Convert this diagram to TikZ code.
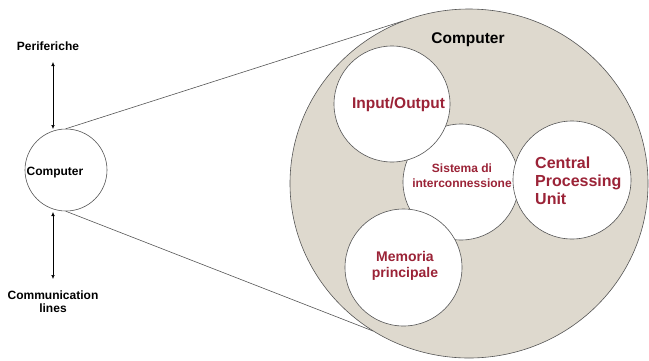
\documentclass[tikz,border=0pt]{standalone}
\usepackage{fontspec}
\setmainfont{Liberation Sans}
\usetikzlibrary{arrows.meta,shapes.geometric}
\definecolor{sand}{RGB}{222,217,206}
\definecolor{wine}{RGB}{155,35,55}
\definecolor{rim}{RGB}{85,85,85}
\tikzset{
  rimline/.style={draw=rim, line width=0.6pt},
  unit/.style={circle, rimline, fill=white, inner sep=0pt, minimum size=#1},
  blk/.style={inner sep=0pt, align=center, font=\bfseries\fontsize{12}{13.5}\selectfont},
  redtxt/.style={inner sep=0pt, text=wine},
  dblarrow/.style={draw=black, line width=0.5pt, {Latex[length=4pt,width=3.5pt]}-{Latex[length=4pt,width=3.5pt]}},
}
\begin{document}
\begin{tikzpicture}[x=1pt, y=-1pt]
  \useasboundingbox (0,0) rectangle (649,360);

  % enlarged view of the computer
  \node[ellipse, rimline, fill=sand, minimum width=358, minimum height=349, inner sep=0pt]
    (big) at (469,183.5) {};
  \node[inner sep=0pt, font=\bfseries\fontsize{15.5}{17}\selectfont] (bigtitle) at (468,40) {Computer};

  % internal units (interconnection first, the others overlap it)
  \node[unit=116] (bus) at (461,182) {};
  \node[unit=116] (io)  at (392,104) {};
  \node[unit=118] (cpu) at (572,180) {};
  \node[unit=117] (mem) at (403.5,267.5) {};

  \node[redtxt, font=\bfseries\fontsize{15.5}{17}\selectfont] (iotxt) at (398.5,104) {Input/Output};
  \node[redtxt, align=center, font=\bfseries\fontsize{12}{15}\selectfont] (bustxt) at (462,176) {Sistema di\\interconnessione};
  \node[redtxt, align=left, anchor=west, font=\bfseries\fontsize{16}{18}\selectfont] (cputxt) at (535,181) {Central\\Processing\\Unit};
  \node[redtxt, align=center, font=\bfseries\fontsize{14}{16}\selectfont] (memtxt) at (405,266) {Memoria\\principale};

  % the computer as a black box
  \node[circle, rimline, fill=white, minimum size=82, inner sep=0pt] (pc) at (66,170) {};
  \node[blk] (pctxt) at (55,173) {Computer};
  \node[blk] (perif) at (48,46) {Periferiche};
  \node[blk] (comm) at (53,301.5) {Communication\\lines};

  % projection lines to the enlarged view
  \coordinate (tU) at (403,21);
  \coordinate (tL) at (373,331);
  \draw[rimline] (pc.north) -- (tU);
  \draw[rimline] (pc.south) -- (tL);

  % two-way links
  \coordinate (a1) at (53,62);
  \coordinate (a2) at (53,129);
  \coordinate (b1) at (53,212);
  \coordinate (b2) at (53,279);
  \draw[dblarrow] (a1) -- (a2);
  \draw[dblarrow] (b1) -- (b2);
\end{tikzpicture}
\end{document}
